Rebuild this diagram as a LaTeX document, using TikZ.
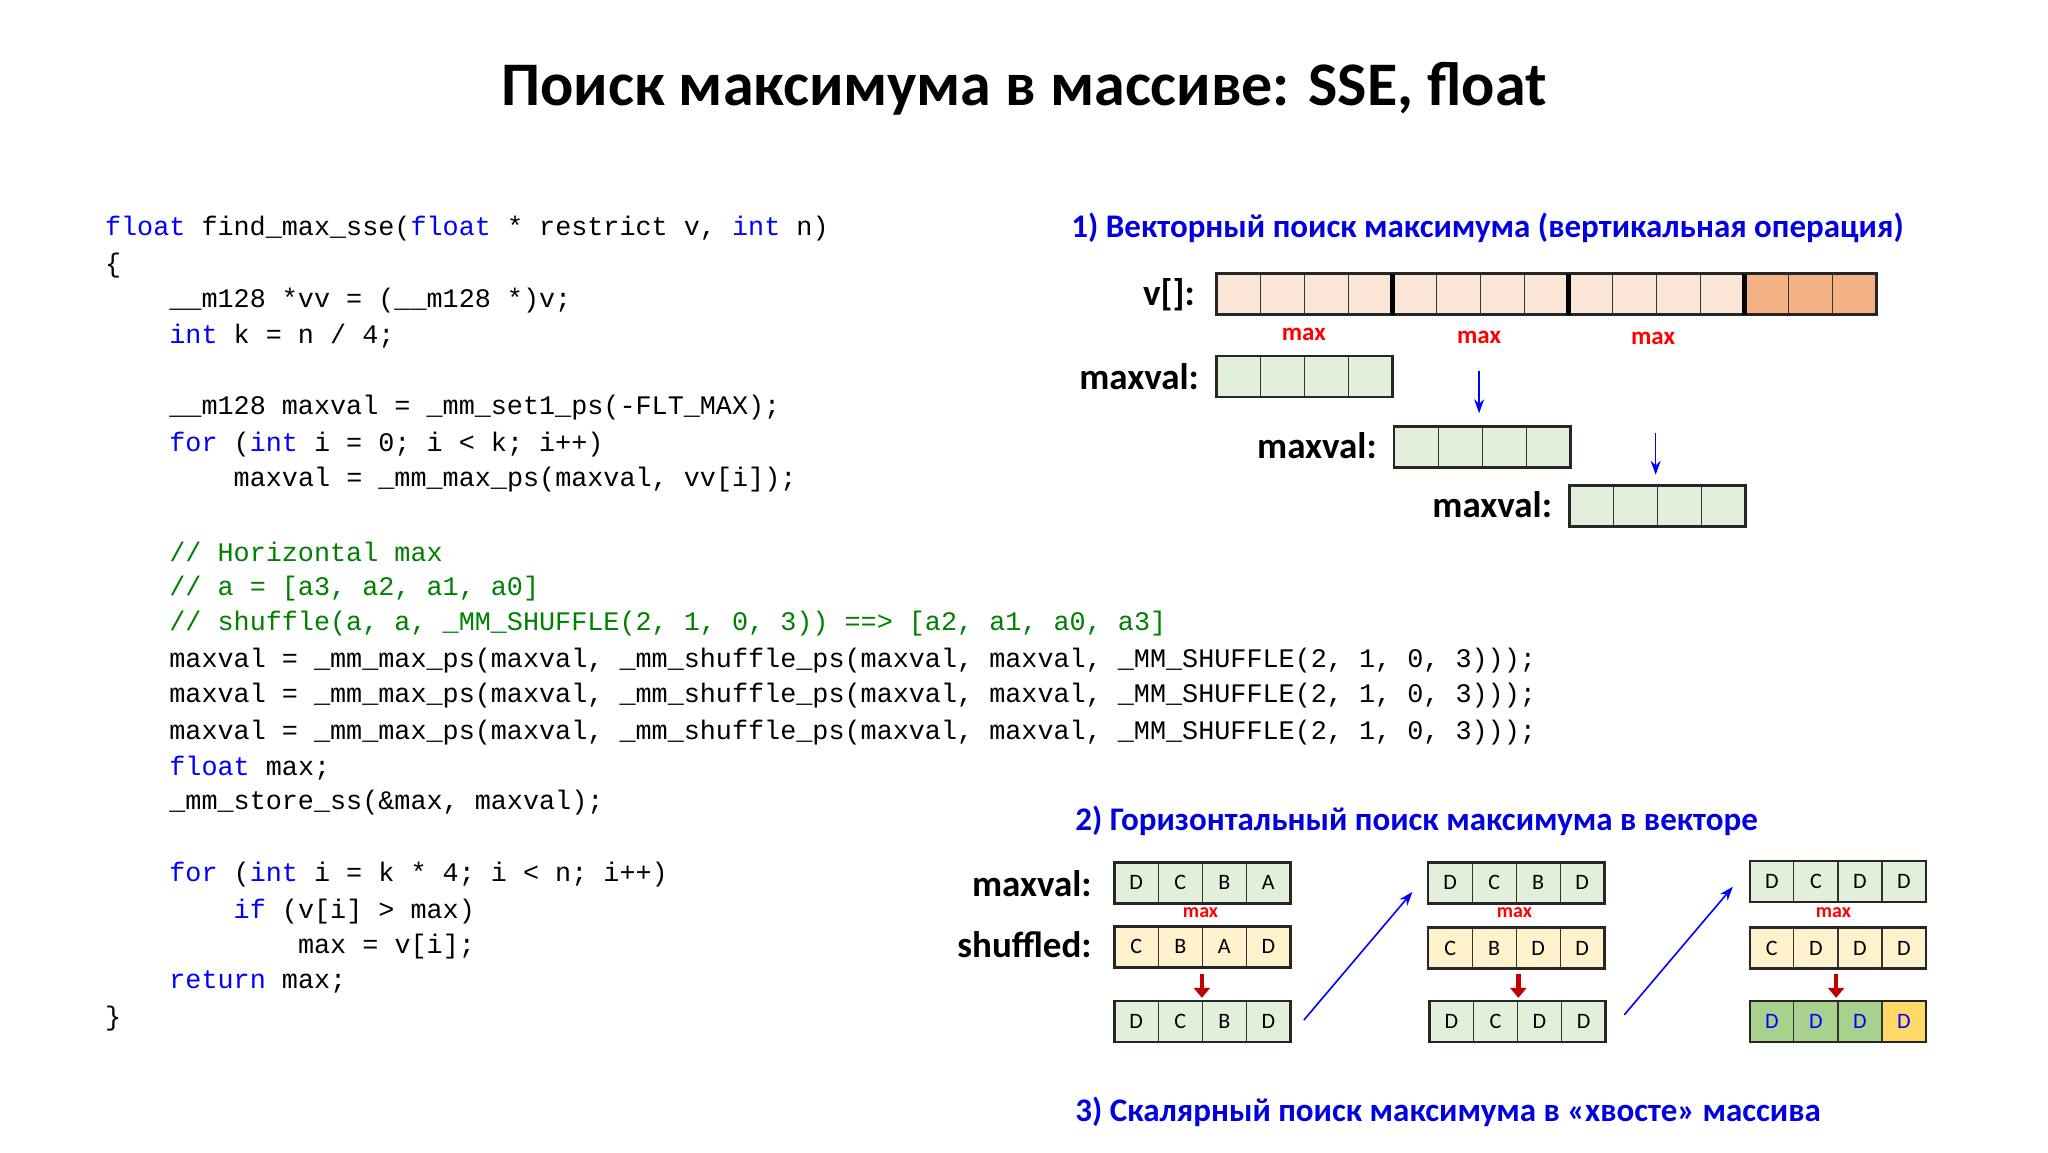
\documentclass[tikz,border=0pt]{standalone}
\usepackage{fontspec}
\setmainfont{Carlito}
\newfontfamily\codefont{Liberation Mono}
\usetikzlibrary{arrows.meta}
\definecolor{peach}{HTML}{FBE5D6}
\definecolor{orng}{HTML}{F4B183}
\definecolor{lgreen}{HTML}{E2EFDA}
\definecolor{mgreen}{HTML}{A9D18E}
\definecolor{lyell}{HTML}{FFF2CC}
\definecolor{gold}{HTML}{FFD966}
\definecolor{kwblue}{HTML}{0000FF}
\definecolor{cmgreen}{HTML}{008000}
\definecolor{headblue}{HTML}{0000E0}
\definecolor{maxred}{HTML}{FF0000}
\definecolor{darkred}{HTML}{C00000}
\newcommand\kw[1]{\textcolor{kwblue}{#1}}
\newcommand\cm[1]{\textcolor{cmgreen}{#1}}
\newcommand\cl[4]{\node[code] (#1) at ({80+12.3*#2},#3) {#4};}
\tikzset{
  code/.style={anchor=west,inner sep=0,font=\codefont\fontsize{13.4}{16}\selectfont},
  head/.style={anchor=west,inner sep=0,text=headblue,font=\fontsize{16.5}{20}\selectfont\bfseries},
  lbl/.style={anchor=east,inner sep=0,font=\fontsize{18.5}{22}\selectfont\bfseries},
  maxl/.style={inner sep=0,text=maxred,font=\fontsize{12.5}{14}\selectfont\bfseries},
  maxs/.style={inner sep=0,text=maxred,font=\fontsize{10}{12}\selectfont\bfseries},
  cell/.style={draw=black!80,line width=0.6pt,minimum width=22pt,minimum height=20.5pt,inner sep=0,outer sep=0,font=\fontsize{11}{13}\selectfont},
  frame/.style={draw=black!85,line width=1.3pt},
  barr/.style={draw=kwblue,line width=0.8pt,-{Stealth[length=7pt,width=5pt]}},
  rarr/.style={draw=darkred,line width=2.2pt,-{Triangle[length=5pt,width=8pt]}}
}
\begin{document}
\begin{tikzpicture}[x=0.654pt,y=-0.654pt]
\useasboundingbox (0,0) rectangle (1566,881);
\fill[white] (0,0) rectangle (1566,881);
\node[font=\fontsize{31}{36}\selectfont\bfseries] (title) at (783,68) {Поиск максимума в массиве: SSE, float};
% code
\cl{c1}{0}{175}{\kw{float} find\_max\_sse(\kw{float} * restrict v, \kw{int} n)}
\cl{c2}{0}{203}{\{}
\cl{c3}{4}{230}{\_\_m128 *vv = (\_\_m128 *)v;}
\cl{c4}{4}{257}{\kw{int} k = n / 4;}
\cl{c5}{4}{312}{\_\_m128 maxval = \_mm\_set1\_ps(-FLT\_MAX);}
\cl{c6}{4}{340}{\kw{for} (\kw{int} i = 0; i < k; i++)}
\cl{c7}{8}{367}{maxval = \_mm\_max\_ps(maxval, vv[i]);}
\cl{c8}{4}{422}{\cm{// Horizontal max}}
\cl{c9}{4}{450}{\cm{// a = [a3, a2, a1, a0]}}
\cl{c10}{4}{477}{\cm{// shuffle(a, a, \_MM\_SHUFFLE(2, 1, 0, 3)) ==> [a2, a1, a0, a3]}}
\cl{c11}{4}{505}{maxval = \_mm\_max\_ps(maxval, \_mm\_shuffle\_ps(maxval, maxval, \_MM\_SHUFFLE(2, 1, 0, 3)));}
\cl{c12}{4}{532}{maxval = \_mm\_max\_ps(maxval, \_mm\_shuffle\_ps(maxval, maxval, \_MM\_SHUFFLE(2, 1, 0, 3)));}
\cl{c13}{4}{560}{maxval = \_mm\_max\_ps(maxval, \_mm\_shuffle\_ps(maxval, maxval, \_MM\_SHUFFLE(2, 1, 0, 3)));}
\cl{c14}{4}{587}{\kw{float} max;}
\cl{c15}{4}{614}{\_mm\_store\_ss(\&max, maxval);}
\cl{c16}{4}{669}{\kw{for} (\kw{int} i = k * 4; i < n; i++)}
\cl{c17}{8}{697}{\kw{if} (v[i] > max)}
\cl{c18}{12}{724}{max = v[i];}
\cl{c19}{4}{751}{\kw{return} max;}
\cl{c20}{0}{779}{\}}
% section 1
\node[head] (h1) at (819,174) {1) Векторный поиск максимума (вертикальная операция)};
\foreach \i in {0,...,14}{
  \ifnum\i<12 \def\fc{peach}\else\def\fc{orng}\fi
  \node[cell,fill=\fc] (v\i) at ({930+33.67*\i+16.83},225) {};
}
\draw[frame] (v0.north west) rectangle (v14.south east);
\foreach \i in {3,7,11}{\draw[line width=2.2pt] (v\i.north east) -- (v\i.south east);}
\node[lbl] (vl) at (914,225) {v[]:};
\node[maxl] (m1) at (997,256) {max};
\node[maxl] (m2) at (1131,258) {max};
\node[maxl] (m3) at (1264,259) {max};
\foreach \r/\x/\y in {a/930/288,b/1066/342,c/1200/387}{
  \foreach \i in {0,...,3}{\node[cell,fill=lgreen] (\r\i) at ({\x+33.67*\i+16.83},\y) {};}
  \draw[frame] (\r0.north west) rectangle (\r3.south east);
}
\node[lbl] (la) at (917,288) {maxval:};
\node[lbl] (lb) at (1053,341) {maxval:};
\node[lbl] (lc) at (1187,386) {maxval:};
\coordinate (p1) at (1131,284); \coordinate (p2) at (1131,316);
\coordinate (p3) at (1266,331); \coordinate (p4) at (1266,363);
\draw[barr] (p1) -- (p2);
\draw[barr] (p3) -- (p4);
% section 2
\node[head] (h2) at (822,628) {2) Горизонтальный поиск максимума в векторе};
\node[head] (h3) at (822,850) {3) Скалярный поиск максимума в «хвосте» массива};
\newcommand\crow[5]{% name, x, y, fills, letters
  \foreach \l [count=\i from 0] in {#5}{\node[cell,fill=#4] (#1\i) at ({#2+33.67*\i+16.83},#3) {\l};}
  \draw[frame] (#10.north west) rectangle (#13.south east);}
\crow{s1a}{852}{675}{lgreen}{D,C,B,A}
\crow{s1b}{852}{724}{lyell}{C,B,A,D}
\crow{s1c}{852}{781}{lgreen}{D,C,B,D}
\crow{s2a}{1092}{675}{lgreen}{D,C,B,D}
\crow{s2b}{1092}{725}{lyell}{C,B,D,D}
\crow{s2c}{1093}{781}{lgreen}{D,C,D,D}
\crow{s3a}{1338}{674}{lgreen}{D,C,D,D}
\crow{s3b}{1338}{725}{lyell}{C,D,D,D}
\foreach \i in {0,1,2}{\node[cell,fill=mgreen,text=kwblue] (s3c\i) at ({1338+33.67*\i+16.83},781) {D};}
\node[cell,fill=gold,text=kwblue] (s3c3) at ({1338+33.67*3+16.83},781) {D};
\draw[frame] (s3c0.north west) rectangle (s3c3.south east);
\node[lbl] (lm) at (835,676) {maxval:};
\node[lbl] (ls) at (835,722) {shuffled:};
\node[maxs] (x1) at (918,698) {max};
\node[maxs] (x2) at (1158,698) {max};
\node[maxs] (x3) at (1402,698) {max};
\foreach \x in {919,1161,1404}{
  \coordinate (ra\x) at (\x,745); \coordinate (rb\x) at (\x,763);
  \draw[rarr] (ra\x) -- (rb\x);}
\coordinate (q1) at (997,780); \coordinate (q2) at (1080,682);
\coordinate (q3) at (1242,776); \coordinate (q4) at (1325,678);
\draw[barr] (q1) -- (q2);
\draw[barr] (q3) -- (q4);
\end{tikzpicture}
\end{document}
